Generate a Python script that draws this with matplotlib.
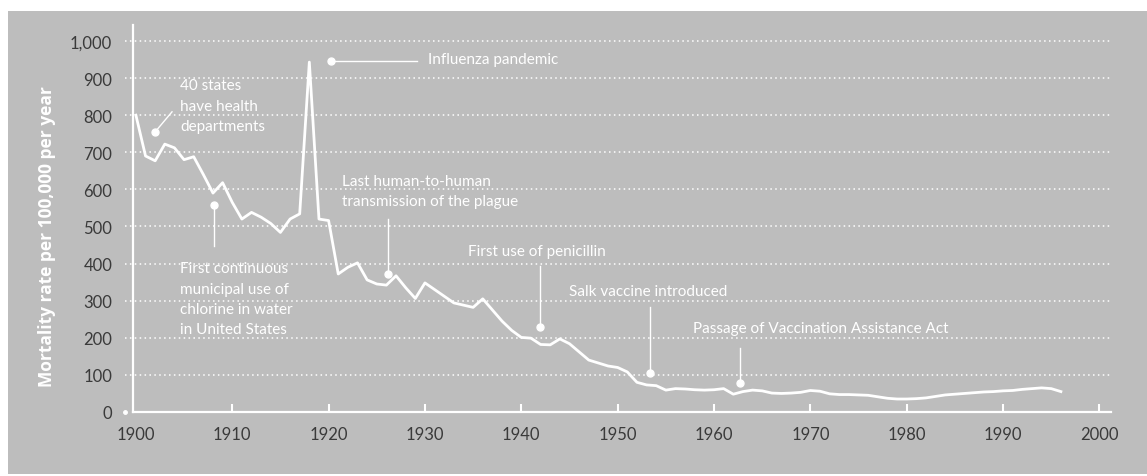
import matplotlib
matplotlib.use("Agg")
import matplotlib.pyplot as plt
from matplotlib.patches import Rectangle

# crude death rate, infectious diseases, United States
years = list(range(1900, 1997))
rates = [
    800, 690, 677, 722, 712, 680, 688, 640, 590, 618,
    565, 520, 538, 525, 508, 484, 520, 534, 943, 520,
    516, 372, 390, 402, 356, 345, 342, 367, 335, 306,
    348, 330, 312, 294, 288, 282, 305, 275, 245, 220,
    201, 199, 182, 181, 197, 184, 162, 140, 132, 124,
    120, 108, 80, 73, 71, 59, 63, 62, 60, 59,
    60, 63, 48, 55, 59, 57, 51, 50, 51, 53,
    58, 56, 49, 47, 47, 46, 45, 41, 37, 35,
    35, 36, 38, 42, 46, 48, 50, 52, 54, 55,
    57, 58, 61, 63, 65, 63, 55,
]

# annotations: label, event (year, value), end of leader line, text anchor
ann_labels = [
    "40 states\nhave health\ndepartments",
    "First continuous\nmunicipal use of\nchlorine in water\nin United States",
    "Influenza pandemic",
    "Last human-to-human\ntransmission of the plague",
    "First use of penicillin",
    "Salk vaccine introduced",
    "Passage of Vaccination Assistance Act",
]
ann_points = [(1902.0, 755), (1908.1, 559), (1920.3, 947), (1926.2, 372),
              (1941.9, 228), (1953.4, 104), (1962.7, 78)]
ann_line_ends = [(1903.75, 809), (1908.1, 447), (1929.2, 947), (1926.2, 520),
                 (1941.9, 394), (1953.4, 283), (1962.7, 173)]
ann_text_pos = [(1904.6, 899, "top"), (1904.6, 406, "top"), (1930.3, 951, "center"),
                (1921.4, 642, "top"), (1934.5, 434, "center"), (1944.9, 326, "center"),
                (1957.8, 226, "center")]

BG = "#bdbdbd"
TICK_COLOR = "#3a3a3a"

fig = plt.figure(figsize=(11.47, 4.77), dpi=100)
fig.patch.set_facecolor("white")
fig.patches.append(Rectangle((8 / 1147, 2 / 477), 1 - 8 / 1147, 463 / 477,
                             transform=fig.transFigure, facecolor=BG,
                             edgecolor="none", zorder=-5))

ax = fig.add_axes([133 / 1147, 64 / 477, 978 / 1147, 387 / 477])
ax.set_facecolor("none")
ax.set_xlim(1899.7, 2001.2)
ax.set_ylim(0, 1043)

for s in ["top", "right"]:
    ax.spines[s].set_visible(False)
for s in ["left", "bottom"]:
    ax.spines[s].set_color("white")
    ax.spines[s].set_linewidth(1.6)

ax.set_xticks(range(1900, 2001, 10))
ax.set_yticks(range(0, 1001, 100))
ax.set_yticklabels([f"{v:,}" for v in range(0, 1001, 100)])
ax.tick_params(axis="x", direction="in", length=6, width=1.5, color="white",
               pad=10, labelsize=12, labelcolor=TICK_COLOR)
ax.tick_params(axis="y", length=0, pad=15, labelsize=12, labelcolor=TICK_COLOR)
ax.xaxis.get_major_ticks()[0].tick1line.set_visible(False)
for lab in ax.get_xticklabels() + ax.get_yticklabels():
    lab.set_family("Lato")

# dotted grid lines, starting just left of the axis
for v in range(100, 1001, 100):
    ax.axhline(v, xmin=-8 / 978, xmax=1.0, color="white", lw=1.1,
               linestyle=(0, (1, 2.2)), clip_on=False, zorder=1)
ax.plot([1898.9], [0], marker="o", ms=2.5, color="white", clip_on=False)

ax.plot(years, rates, color="white", lw=2.0, zorder=3, solid_joinstyle="round")

for label, (px, py), (lx, ly), (tx, ty, va) in zip(ann_labels, ann_points,
                                                    ann_line_ends, ann_text_pos):
    ax.plot([px, lx], [py, ly], color="white", lw=1.0, zorder=2)
    ax.plot([px], [py], marker="o", ms=5, color="white", zorder=4)
    ax.text(tx, ty, label, color="white", fontsize=11, family="Lato",
            ha="left", va=va, linespacing=1.58, zorder=4)

fig.text(47 / 1147, 1 - 237 / 477, "Mortality rate per 100,000 per year",
         rotation=90, ha="center", va="center", color="white",
         fontsize=12.5, fontweight="bold", family="Open Sans")

fig.savefig("out.png", dpi=100)
